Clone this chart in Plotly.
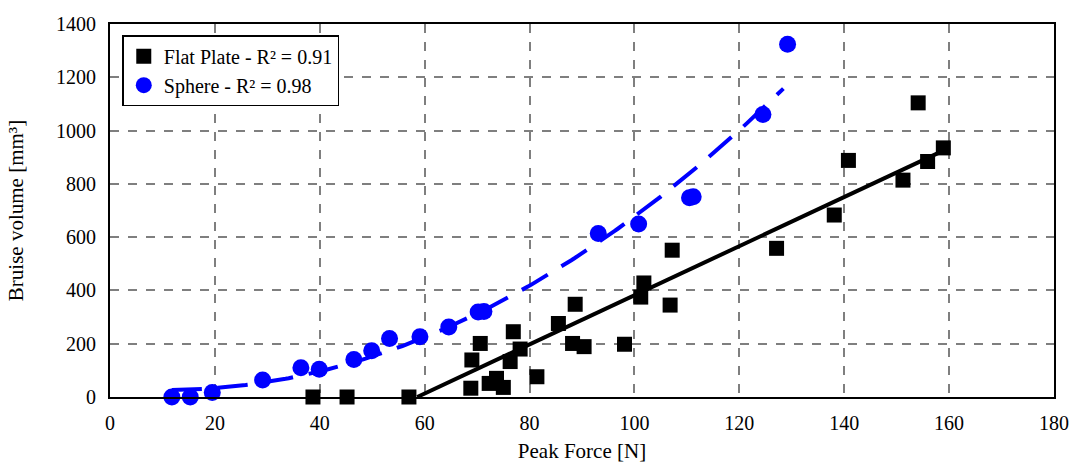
import numpy as np
import plotly.graph_objects as go

# Flat plate data
flat_force = [38.7, 45.2, 57.0, 68.8, 69.0, 70.6, 72.3, 73.7, 75.0, 76.3, 76.9, 78.2,
              81.4, 85.5, 88.2, 88.7, 90.4, 98.1, 101.2, 101.8, 106.8, 107.2, 127.1,
              138.1, 140.8, 151.2, 154.1, 155.9, 158.9]
flat_volume = [0, 0, 0, 33, 139, 201, 51, 70, 36, 133, 245, 180,
               76, 276, 201, 348, 189, 198, 375, 428, 345, 551, 558,
               683, 888, 814, 1104, 884, 935]

# Sphere data
sphere_force = [11.8, 15.3, 19.5, 29.1, 36.4, 39.9, 46.5, 49.9, 53.3, 59.1, 64.6,
                70.2, 71.3, 93.1, 100.8, 110.5, 111.2, 124.5, 129.2]
sphere_volume = [0, 0, 17, 64, 110, 104, 141, 174, 220, 226, 263,
                 319, 321, 614, 649, 748, 752, 1060, 1324]

flat_name = "Flat Plate - R² = 0.91"
sphere_name = "Sphere - R² = 0.98"

x_ticks = [0, 20, 40, 60, 80, 100, 120, 140, 160, 180]
y_ticks = [0, 200, 400, 600, 800, 1000, 1200, 1400]

# Trendlines (least squares fits of the data)
fx = np.array(flat_force); fy = np.array(flat_volume)
k1 = np.polyfit(fx, fy, 1)
flat_tx = np.linspace(fx.min(), fx.max(), 400)
flat_ty = np.polyval(k1, flat_tx)
mask = flat_ty >= 0
flat_tx, flat_ty = flat_tx[mask], flat_ty[mask]

sx = np.array(sphere_force); sy = np.array(sphere_volume)
k2 = np.polyfit(sx, sy, 2)
sph_tx = np.linspace(sx.min(), sx.max() - 0.8, 200)
sph_ty = np.polyval(k2, sph_tx)

font = "Times New Roman"

fig = go.Figure()
fig.add_trace(go.Scatter(x=flat_tx, y=flat_ty, mode="lines",
                         line=dict(color="black", width=4), showlegend=False,
                         hoverinfo="skip"))
fig.add_trace(go.Scatter(x=sph_tx, y=sph_ty, mode="lines",
                         line=dict(color="#0000FF", width=4, dash="30px,16px"),
                         showlegend=False, hoverinfo="skip"))
fig.add_trace(go.Scatter(x=flat_force, y=flat_volume, mode="markers", name=flat_name,
                         marker=dict(symbol="square", size=15, color="black"),
                         cliponaxis=False))
fig.add_trace(go.Scatter(x=sphere_force, y=sphere_volume, mode="markers", name=sphere_name,
                         marker=dict(symbol="circle", size=17, color="#0000FF"),
                         cliponaxis=False))

axis_common = dict(showgrid=True, gridcolor="#7f7f7f", gridwidth=1.5, griddash="dash",
                   showline=True, linecolor="black", linewidth=2, mirror=True,
                   zeroline=False, ticks="", automargin=False,
                   tickfont=dict(family=font, size=20, color="black"))

fig.update_xaxes(range=[0, 180], tickvals=x_ticks, ticklabelstandoff=7,
                 title=dict(text="Peak Force [N]",
                 font=dict(family=font, size=21, color="black"), standoff=10), **axis_common)
fig.update_yaxes(range=[0, 1400], tickvals=y_ticks, ticklabelstandoff=8,
                 title=dict(text="Bruise volume [mm³]",
                 font=dict(family=font, size=21, color="black"), standoff=27), **axis_common)

fig.update_layout(
    width=1078, height=464,
    margin=dict(l=110, r=24, t=24, b=67),
    plot_bgcolor="white", paper_bgcolor="white",
    font=dict(family=font, color="black"),
    legend=dict(x=0.013, y=0.97, xanchor="left", yanchor="top",
                bgcolor="white", bordercolor="black", borderwidth=1.5,
                font=dict(family=font, size=20, color="black"),
                itemwidth=30, tracegroupgap=0),
)

fig.write_html("out.html")
